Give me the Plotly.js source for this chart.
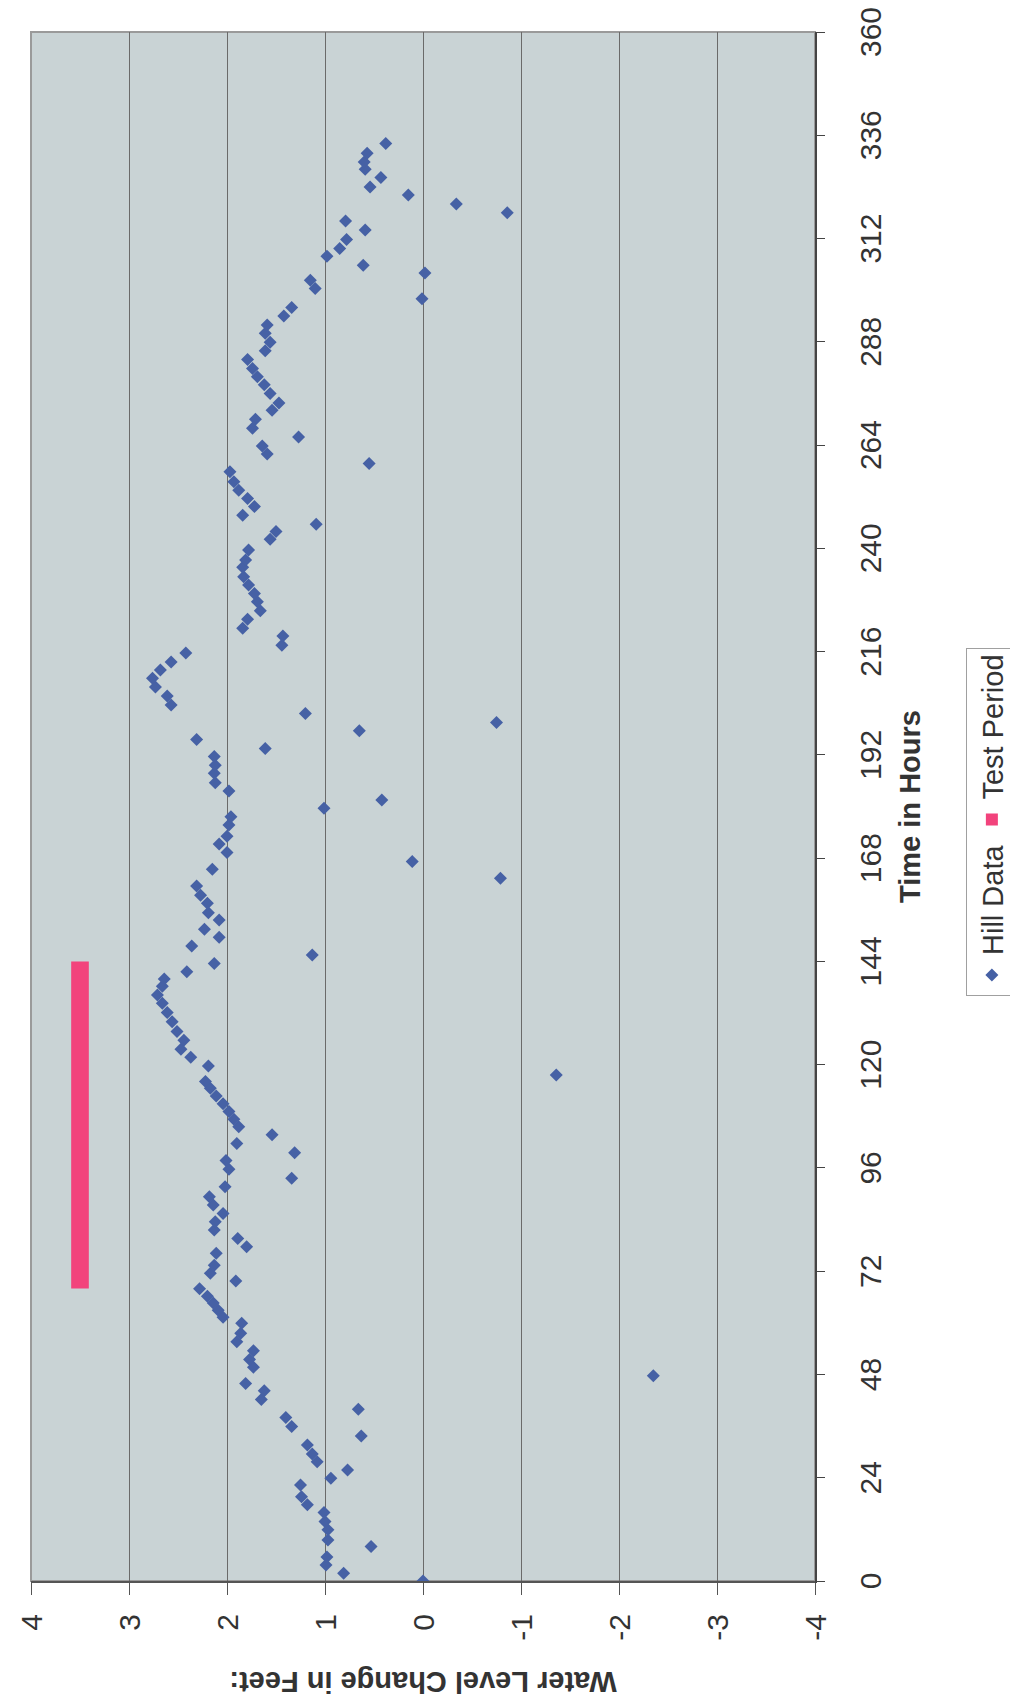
<!DOCTYPE html>
<html><head><meta charset="utf-8">
<script src="https://cdn.plot.ly/plotly-3.0.1.min.js"></script>
<style>
html,body{margin:0;padding:0;width:1010px;height:1705px;overflow:hidden;background:#fff;}
#wrap{position:absolute;left:0;top:0;width:1705px;height:1010px;transform-origin:0 0;transform:translateY(1705px) rotate(-90deg);}
#chart{width:1705px;height:1010px;}
</style></head><body>
<div id="wrap"><div id="chart"></div></div>
<script>
// Hill Data: time (hours) and water level change (feet)
const hours = [0,1.8,3.7,5.6,8.0,9.5,11.9,13.8,15.9,17.7,19.6,22.3,23.9,25.8,27.7,29.5,31.6,33.7,35.9,38.0,
39.9,42.2,44.2,45.9,47.7,49.7,51.5,53.5,55.6,57.6,59.9,61.3,62.9,64.6,66.2,67.9,69.7,71.5,73.4,76.2,
77.7,79.6,81.6,83.5,85.4,87.4,89.3,91.6,93.6,95.7,97.7,99.5,101.7,103.7,105.6,107.3,109.1,110.9,112.7,114.5,
116.1,117.6,119.7,121.7,123.6,125.7,127.7,130.0,132.1,134.3,136.2,138.2,139.9,141.6,143.5,145.5,147.6,149.6,151.5,153.6,
155.3,157.5,159.4,161.5,163.3,165.4,167.2,169.3,171.3,173.1,175.7,177.6,179.6,181.5,183.6,185.5,187.7,189.6,191.6,193.5,
195.6,197.6,199.5,201.6,203.6,205.7,207.8,209.8,211.7,213.6,215.7,217.5,219.6,221.4,223.5,225.5,227.6,229.5,231.5,233.4,
235.6,237.3,239.6,242.1,243.9,245.6,247.7,249.7,251.6,253.5,255.5,257.8,259.7,261.9,263.8,265.9,267.9,270.0,272.1,273.8,
276.0,278.0,279.9,281.8,283.9,285.9,287.9,290.0,291.9,294.0,296.0,298.0,300.4,302.3,304.0,305.8,307.9,309.7,311.8,314.0,
316.1,318.0,320.0,322.1,324.0,326.2,328.1,329.8,331.8,334.1];
const level = [0.00,0.81,0.99,0.98,0.53,0.97,0.97,1.00,1.01,1.18,1.24,1.25,0.94,0.77,1.08,1.13,1.18,0.63,1.34,1.40,
0.66,1.65,1.62,1.81,-2.35,1.73,1.77,1.73,1.90,1.86,1.85,2.04,2.09,2.14,2.20,2.28,1.91,2.17,2.13,2.11,
1.80,1.89,2.13,2.12,2.04,2.14,2.18,2.02,1.34,1.98,2.01,1.31,1.90,1.54,1.88,1.93,1.98,2.04,2.11,2.17,
2.22,-1.36,2.19,2.37,2.47,2.44,2.51,2.56,2.61,2.66,2.71,2.66,2.64,2.41,2.13,1.13,2.36,2.08,2.23,2.08,
2.19,2.20,2.27,2.31,-0.79,2.15,0.11,2.00,2.08,2.00,1.98,1.96,1.01,0.42,1.98,2.12,2.13,2.12,2.13,1.61,
2.31,0.65,-0.75,1.20,2.57,2.61,2.73,2.76,2.68,2.57,2.42,1.44,1.43,1.84,1.79,1.66,1.69,1.72,1.78,1.83,
1.84,1.81,1.78,1.56,1.50,1.09,1.84,1.72,1.79,1.88,1.93,1.97,0.55,1.59,1.64,1.27,1.74,1.71,1.54,1.47,
1.56,1.62,1.69,1.74,1.79,1.61,1.56,1.61,1.59,1.42,1.34,0.01,1.10,1.15,-0.02,0.61,0.98,0.85,0.78,0.59,
0.79,-0.86,-0.34,0.15,0.54,0.43,0.59,0.60,0.57,0.38];

// Test Period
const testStart = [68];
const testEnd = [144];
const testLevel = [3.5];

// Axis ticks
const timeTicks = [0,24,48,72,96,120,144,168,192,216,240,264,288,312,336,360];
const levelTicks = [-4,-3,-2,-1,0,1,2,3,4];
const levelTickLabels = ['-4','-3','-2','-1','0','1','2','3','4'];

const FONT = '"Liberation Sans", Arial, sans-serif';

const traces = [
  {
    type: 'scatter', mode: 'markers', name: 'Hill Data',
    x: hours, y: level,
    marker: {symbol: 'diamond', size: 10, color: '#4661a5', line: {width: 0}}
  },
  {
    type: 'bar', orientation: 'h', name: 'Test Period',
    y: testLevel,
    x: testEnd.map((e, i) => e - testStart[i]),
    base: testStart,
    width: testLevel.map(() => 0.18),
    marker: {color: '#f2437c', line: {width: 0}}
  }
];

const layout = {
  width: 1705, height: 1010,
  margin: {l: 124, r: 32, t: 31, b: 195, pad: 0, autoexpand: false},
  paper_bgcolor: '#ffffff',
  plot_bgcolor: '#c9d3d5',
  font: {family: FONT, color: '#333333'},
  showlegend: true,
  legend: {
    orientation: 'h', x: 0.49, xanchor: 'center', y: -0.192, yanchor: 'top',
    bgcolor: '#ffffff', bordercolor: '#a0a0a0', borderwidth: 1,
    font: {family: FONT, size: 29, color: '#333333'},
    traceorder: 'normal'
  },
  xaxis: {
    range: [0, 360], tickmode: 'array', tickvals: timeTicks,
    ticks: 'outside', ticklen: 8, tickwidth: 1, tickcolor: '#444',
    showline: true, linecolor: '#444', linewidth: 2,
    showgrid: false, zeroline: false, automargin: false,
    tickfont: {family: FONT, size: 30, color: '#333'},
    ticklabelstandoff: 20,
    title: {text: 'Time in Hours', font: {family: FONT, size: 29, color: '#333', weight: 'bold'}, standoff: 14},
    fixedrange: true
  },
  yaxis: {
    range: [-4, 4], tickmode: 'array', tickvals: levelTicks, ticktext: levelTickLabels,
    ticks: 'outside', ticklen: 12, tickwidth: 1, tickcolor: '#555',
    showline: true, linecolor: '#555', linewidth: 2,
    showgrid: true, gridcolor: '#6a6a6a', gridwidth: 1, zeroline: false, automargin: false,
    tickfont: {family: FONT, size: 30, color: '#333'},
    ticklabelstandoff: 13,
    title: {text: 'Water Level Change in Feet:', font: {family: FONT, size: 29, color: '#333', weight: 'bold'}, standoff: 22},
    fixedrange: true
  },
  shapes: [{
    type: 'rect', xref: 'paper', yref: 'paper', x0: 0, x1: 1, y0: 0, y1: 1,
    line: {color: '#9a9a9a', width: 2}, layer: 'below'
  }]
};

Plotly.newPlot('chart', traces, layout, {staticPlot: true, displayModeBar: false});
</script>
</body></html>
